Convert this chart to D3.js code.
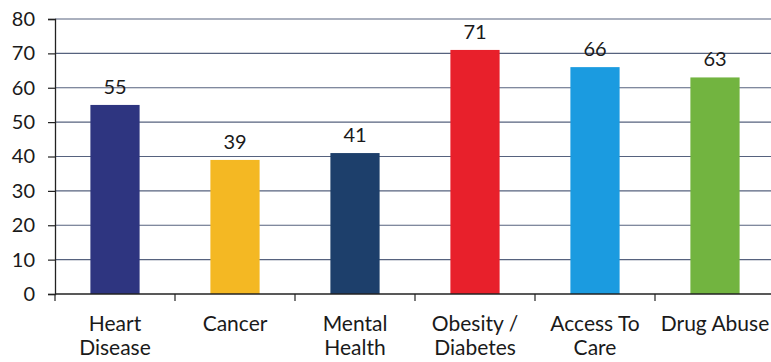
<!DOCTYPE html>
<html>
<head>
<meta charset="utf-8">
<script src="https://cdn.jsdelivr.net/npm/d3@7"></script>
<style>
  body { margin: 0; background: #fff; }
  svg { display: block; font-family: Lato, "Open Sans", sans-serif; }
</style>
</head>
<body>
<div id="chart"></div>
<script>
// Chart data
const categories = ["Heart Disease", "Cancer", "Mental Health", "Obesity / Diabetes", "Access To Care", "Drug Abuse"];
const labelLines = [["Heart", "Disease"], ["Cancer"], ["Mental", "Health"], ["Obesity /", "Diabetes"], ["Access To", "Care"], ["Drug Abuse"]];
const values = [55, 39, 41, 71, 66, 63];
const colors = ["#2e3580", "#f4b823", "#1d3f6b", "#e8202b", "#1b9be0", "#72b440"];
const yTicks = [0, 10, 20, 30, 40, 50, 60, 70, 80];

const W = 771, H = 362;
const margin = { top: 19, right: -4, bottom: 68, left: 55 };
const width = W - margin.left - margin.right;
const height = H - margin.top - margin.bottom;

const svg = d3.select("#chart")
    .append("svg")
    .attr("width", W)
    .attr("height", H)
    .append("g")
    .attr("transform", `translate(${margin.left},${margin.top})`);

// Scales
const x = d3.scaleBand()
    .domain(categories)
    .range([0, width])
    .paddingInner(0.59)
    .paddingOuter(0.295);

const y = d3.scaleLinear()
    .domain([0, 80])
    .range([height, 0]);

// Gridlines
svg.append("g")
    .selectAll("line")
    .data(yTicks.filter(d => d > 0))
    .join("line")
    .attr("x1", 0)
    .attr("x2", width)
    .attr("y1", d => y(d))
    .attr("y2", d => y(d))
    .attr("stroke", "#56627e")
    .attr("stroke-width", 1.2);

// Bars
svg.selectAll(".bar")
    .data(values)
    .join("rect")
    .attr("class", "bar")
    .attr("x", (d, i) => x(categories[i]))
    .attr("y", d => y(d))
    .attr("width", x.bandwidth())
    .attr("height", d => height - y(d))
    .attr("fill", (d, i) => colors[i]);

// Value labels
svg.selectAll(".val")
    .data(values)
    .join("text")
    .attr("class", "val")
    .attr("x", (d, i) => x(categories[i]) + x.bandwidth() / 2)
    .attr("y", d => y(d) - 11)
    .attr("text-anchor", "middle")
    .style("font-size", "20px")
    .attr("fill", "#1a1a1a")
    .text(d => d);

// Y axis
const yAxis = svg.append("g")
    .call(d3.axisLeft(y).tickValues(yTicks).tickSize(7).tickPadding(13));
yAxis.select(".domain").attr("stroke", "#222").attr("stroke-width", 1.3);
yAxis.selectAll(".tick line").attr("stroke", "#222").attr("stroke-width", 1.2);
yAxis.selectAll("text")
    .style("font-size", "20px")
    .style("font-family", "Lato, sans-serif")
    .attr("fill", "#1a1a1a");

// X axis with ticks between categories
const step = x.step();
const xAxis = svg.append("g").attr("transform", `translate(0,${height})`);
xAxis.append("line")
    .attr("x1", 0).attr("x2", width)
    .attr("stroke", "#222").attr("stroke-width", 1.3);
xAxis.selectAll(".xt")
    .data(d3.range(categories.length + 1))
    .join("line")
    .attr("class", "xt")
    .attr("x1", i => i * step)
    .attr("x2", i => i * step)
    .attr("y1", 0)
    .attr("y2", 7)
    .attr("stroke", "#222")
    .attr("stroke-width", 1.2);

const catLabels = xAxis.selectAll(".cat")
    .data(categories)
    .join("text")
    .attr("class", "cat")
    .attr("text-anchor", "middle")
    .attr("transform", d => `translate(${x(d) + x.bandwidth() / 2},0)`)
    .style("font-size", "21px")
    .attr("fill", "#1a1a1a");

catLabels.selectAll("tspan")
    .data((d, i) => labelLines[i])
    .join("tspan")
    .attr("x", 0)
    .attr("y", (d, j) => 37 + j * 24)
    .text(d => d);
</script>
</body>
</html>
